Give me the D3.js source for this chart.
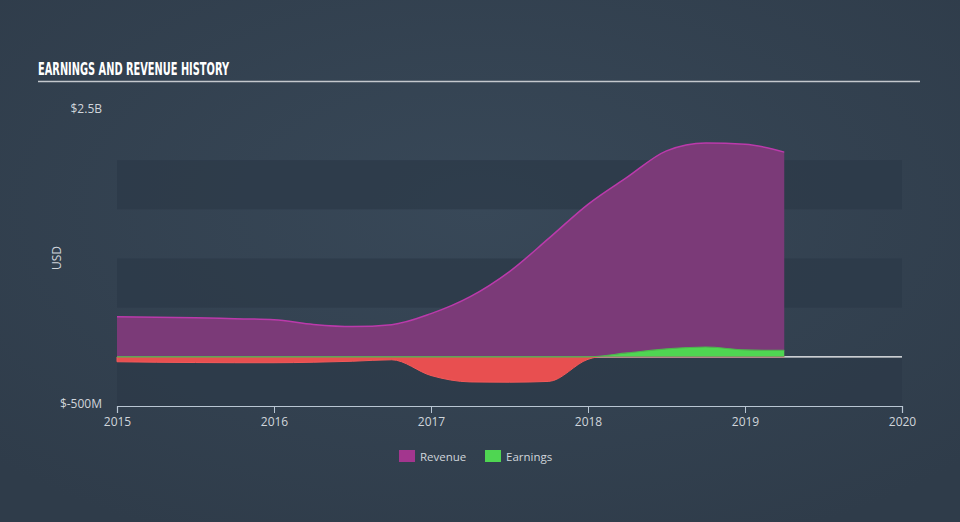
<!DOCTYPE html>
<html>
<head>
<meta charset="utf-8">
<script src="https://cdn.jsdelivr.net/npm/d3@7"></script>
<style>
    body { margin: 0; background: #344253; }
    svg text { font-family: "Open Sans", "DejaVu Sans", sans-serif; }
</style>
</head>
<body>
<div class="chart"></div>
<script>
// quarterly figures, millions USD
const quarters = [2015.0, 2015.25, 2015.5, 2015.75, 2016.0, 2016.25, 2016.5, 2016.75,
    2017.0, 2017.25, 2017.5, 2017.75, 2018.0, 2018.25, 2018.5, 2018.75, 2019.0, 2019.25];
const revenue = [408, 403, 398, 388, 378, 330, 308, 327, 439, 612, 867, 1204, 1551, 1827, 2095, 2175, 2163, 2082];
const earnings = [-50, -55, -58, -60, -60, -55, -45, -30, -190, -255, -258, -250, -25, 40, 80, 100, 70, 65];
const yTicks = [2500, -500];
const xTicks = [2015, 2016, 2017, 2018, 2019, 2020];
const legendItems = ["Revenue", "Earnings"];

const fullWidth = 960;
const fullHeight = 522;

const svg = d3.select(".chart")
    .append("svg")
    .attr("width", fullWidth)
    .attr("height", fullHeight);

const defs = svg.append("defs");
const grad = defs.append("radialGradient")
    .attr("id", "bg")
    .attr("cx", "50%").attr("cy", "40%").attr("r", "70%");
grad.append("stop").attr("offset", "0%").attr("stop-color", "#384858");
grad.append("stop").attr("offset", "100%").attr("stop-color", "#2f3c4a");
svg.append("rect")
    .attr("width", fullWidth)
    .attr("height", fullHeight)
    .attr("fill", "url(#bg)");

const xScale = d3.scaleLinear().domain([2015, 2020]).range([117, 902]);
const yScale = d3.scaleLinear().domain([-500, 2500]).range([406, 111]);

// alternating bands
const bands = d3.range(-500, 2500, 500).filter((d, i) => i % 2 === 0);
svg.selectAll(".band")
    .data(bands)
    .enter()
    .append("rect")
    .attr("class", "band")
    .attr("x", xScale(2015))
    .attr("width", xScale(2020) - xScale(2015))
    .attr("y", d => yScale(d + 500))
    .attr("height", d => yScale(d) - yScale(d + 500))
    .attr("fill", "#2c3a48")
    .attr("opacity", 0.75);

// title
svg.append("text")
    .attr("x", 38)
    .attr("y", 75)
    .attr("textLength", 191)
    .attr("lengthAdjust", "spacingAndGlyphs")
    .style("font-family", "'DejaVu Sans Condensed', 'Liberation Sans Narrow', sans-serif")
    .style("font-weight", "bold")
    .style("font-size", "17px")
    .style("fill", "#ffffff")
    .text("EARNINGS AND REVENUE HISTORY");
svg.append("line")
    .attr("x1", 38).attr("x2", 920)
    .attr("y1", 81.5).attr("y2", 81.5)
    .attr("stroke", "#c4c8cd")
    .attr("stroke-width", 1.5);

// zero line
svg.append("line")
    .attr("x1", xScale(2015)).attr("x2", xScale(2020))
    .attr("y1", yScale(0)).attr("y2", yScale(0))
    .attr("stroke", "#ffffff")
    .attr("stroke-width", 1.2);

const curve = d3.curveMonotoneX;

// revenue
const revArea = d3.area()
    .x((d, i) => xScale(quarters[i]))
    .y0(yScale(0))
    .y1(d => yScale(d))
    .curve(curve);
const revLine = d3.line()
    .x((d, i) => xScale(quarters[i]))
    .y(d => yScale(d))
    .curve(curve);
svg.append("path")
    .datum(revenue)
    .attr("d", revArea)
    .attr("fill", "#7b3a78");
svg.append("path")
    .datum(revenue)
    .attr("d", revLine)
    .attr("fill", "none")
    .attr("stroke", "#bb3aab")
    .attr("stroke-width", 1.5);

// earnings, split at zero
defs.append("clipPath").attr("id", "above")
    .append("rect").attr("x", 0).attr("y", 0).attr("width", fullWidth).attr("height", yScale(0));
defs.append("clipPath").attr("id", "below")
    .append("rect").attr("x", 0).attr("y", yScale(0)).attr("width", fullWidth).attr("height", fullHeight);

const earnArea = d3.area()
    .x((d, i) => xScale(quarters[i]))
    .y0(yScale(0))
    .y1(d => yScale(d))
    .curve(curve);
svg.append("path")
    .datum(earnings)
    .attr("d", earnArea)
    .attr("clip-path", "url(#below)")
    .attr("fill", "#e84f50")
    .attr("stroke", "#f25a5a")
    .attr("stroke-width", 1);
svg.append("path")
    .datum(earnings)
    .attr("d", earnArea)
    .attr("clip-path", "url(#above)")
    .attr("fill", "#4fd652");
svg.append("path")
    .datum(earnings.map(d => Math.max(d, 0)))
    .attr("d", revLine)
    .attr("fill", "none")
    .attr("stroke", "#4fb34f")
    .attr("stroke-width", 1.2);

// y labels
svg.selectAll(".ylab")
    .data(yTicks)
    .enter()
    .append("text")
    .attr("class", "ylab")
    .attr("x", 102)
    .attr("y", d => yScale(d) + 2)
    .attr("text-anchor", "end")
    .style("font-size", "12px")
    .style("fill", "#d0d5db")
    .text(d => d >= 1000 ? "$" + d / 1000 + "B" : "$" + d + "M");

svg.append("text")
    .attr("transform", "translate(61," + 258 + ") rotate(-90)")
    .attr("text-anchor", "middle")
    .style("font-size", "12px")
    .style("fill", "#d0d5db")
    .text("USD");

// x axis
const xAxis = d3.axisBottom(xScale)
    .tickValues(xTicks)
    .tickFormat(d3.format("d"))
    .tickSize(7)
    .tickPadding(4);
const gx = svg.append("g")
    .attr("transform", "translate(0," + yScale(-500) + ")")
    .call(xAxis);
gx.select(".domain").attr("stroke", "#b9c6d3").attr("stroke-width", 1.2);
gx.selectAll(".tick line").attr("stroke", "#b9c6d3");
gx.selectAll(".tick text")
    .style("font-size", "12px")
    .style("font-family", "'Open Sans', sans-serif")
    .style("fill", "#d0d5db");

// legend
const legendColors = ["#a3368e", "#4fd652"];
const legend = svg.selectAll(".legend")
    .data(legendItems)
    .enter()
    .append("g")
    .attr("class", "legend")
    .attr("transform", (d, i) => "translate(" + (399 + i * 86) + ",450)");
legend.append("rect")
    .attr("width", 16)
    .attr("height", 12)
    .attr("fill", (d, i) => legendColors[i]);
legend.append("text")
    .attr("x", 21)
    .attr("y", 11)
    .style("font-size", "11.5px")
    .style("fill", "#d0d5db")
    .text(d => d);
</script>
</body>
</html>
